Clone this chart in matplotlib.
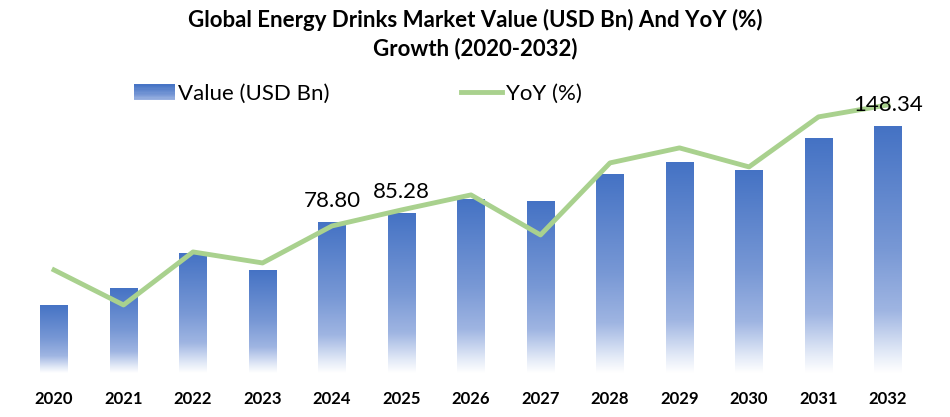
import numpy as np
import matplotlib.pyplot as plt
from matplotlib.colors import LinearSegmentedColormap
from matplotlib.patches import Rectangle
from matplotlib.lines import Line2D
from matplotlib.legend_handler import HandlerBase

# values
years = ['2020', '2021', '2022', '2023', '2024', '2025', '2026',
         '2027', '2028', '2029', '2030', '2031', '2032']
values = [18.7, 31.0, 56.3, 44.0, 78.80, 85.28, 95.5,
          94.0, 113.6, 122.3, 116.5, 139.6, 148.34]
yoy = [5.15, 3.4, 6.05, 5.5, 7.35, 8.15, 8.9,
       6.9, 10.5, 11.25, 10.3, 12.8, 13.4]
shown_labels = {'2024': '78.80', '2025': '85.28', '2032': '148.34'}

BASE = -30.6  # value axis does not start at zero in the original
plt.rcParams['font.family'] = ['Lato', 'DejaVu Sans']

cmap = LinearSegmentedColormap.from_list(
    'fade', [(0, '#ffffff'), (0.08, '#e3eaf7'), (0.25, '#9fb5e2'),
             (0.5, '#7898d5'), (1, '#4472c4')])


class GradHandler(HandlerBase):
    def create_artists(self, legend, orig, xd, yd, w, h, fs, trans):
        n = 12
        arts = []
        for i in range(n):
            r = Rectangle((xd, yd + h * i / n), w, h / n + 0.3,
                          facecolor=cmap(0.25 + 0.75 * (i + 0.5) / n),
                          edgecolor='none', transform=trans)
            arts.append(r)
        return arts


fig = plt.figure(figsize=(9.5, 4.17), dpi=100)
ax = fig.add_axes([0.0203, 0.1055, 0.951, 0.679])
x = np.arange(len(years))

bars = ax.bar(x, np.array(values) - BASE, bottom=BASE, width=0.4,
              color='none', edgecolor='none')
grad = np.linspace(0, 1, 256).reshape(-1, 1)
for b in bars:
    x0, y0 = b.get_x(), b.get_y()
    im = ax.imshow(grad, cmap=cmap, origin='lower', aspect='auto',
                   extent=[x0, x0 + b.get_width(), y0, y0 + b.get_height()],
                   zorder=2)
    im.set_clip_path(b)

ax.set_xlim(-0.5, len(years) - 0.5)
ax.set_ylim(BASE, 174.4)
ax.set_xticks(x, years, fontweight='bold', fontsize=12)
ax.tick_params(axis='x', length=0, pad=13)
ax.set_yticks([])
for s in ax.spines.values():
    s.set_visible(False)

ax2 = ax.twinx()
ax2.plot(x, yoy, color='#a9d18e', lw=3.5)
ax2.set_ylim(0, 14.15)
ax2.set_yticks([])
for s in ax2.spines.values():
    s.set_visible(False)

for i, yr in enumerate(years):
    if yr in shown_labels:
        ax2.annotate(shown_labels[yr], (i, values[i]), xycoords=ax.transData,
                     xytext=(0, 8), textcoords='offset points',
                     ha='center', va='bottom', fontsize=16, color='black')

fig.text(0.5, 1 - 34 / 417,
         'Global Energy Drinks Market Value (USD Bn) And YoY (%)\nGrowth (2020-2032)',
         ha='center', va='center', fontsize=16, fontweight='bold', linespacing=1.35)

handles = [Rectangle((0, 0), 1, 1), Line2D([], [], color='#a9d18e', lw=3.5)]
fig.legend(handles, ['Value (USD Bn)', 'YoY (%)'],
           handler_map={Rectangle: GradHandler()},
           loc='upper left', bbox_to_anchor=(134 / 950, 1 - 84 / 417),
           ncol=2, frameon=False, fontsize=16, borderpad=0, borderaxespad=0,
           handlelength=1.85, handletextpad=0.15, columnspacing=5.9)

fig.savefig('out.png', dpi=100)
